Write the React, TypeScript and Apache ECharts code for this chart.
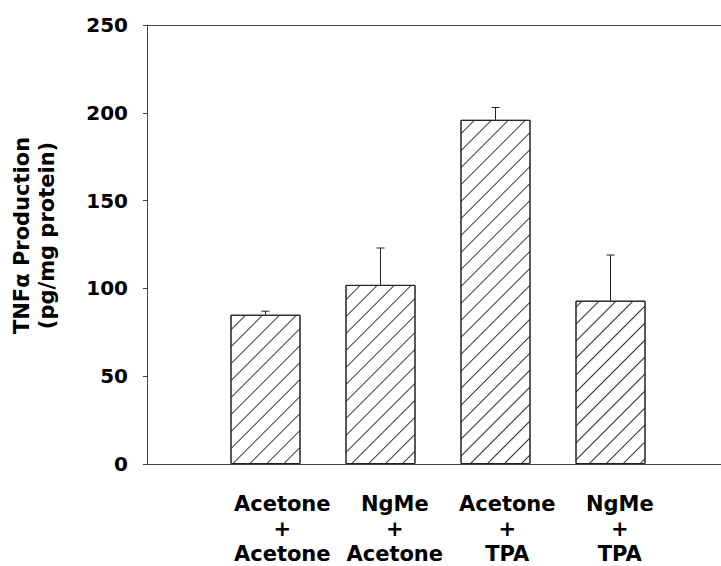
import React, { useEffect, useRef } from "react";
import * as echarts from "echarts";

const categories = ["Acetone\n+\nAcetone", "NgMe\n+\nAcetone", "Acetone\n+\nTPA", "NgMe\n+\nTPA"];
const means = [85, 102, 196, 93];
const errors = [2, 21, 7, 26];
const yMin = 0;
const yMax = 250;
const yInterval = 50;
const yTitle = "TNFα Production\n(pg/mg protein)";

const FONT = "'DejaVu Sans', 'Liberation Sans', Arial, sans-serif";
const LINE = { show: true, lineStyle: { color: "#444", width: 1 } };

export default function App() {
  const ref = useRef<HTMLDivElement>(null);
  useEffect(() => {
    if (!ref.current) return;
    const chart = echarts.init(ref.current, undefined, { renderer: "svg" });
    const option: any = {
      animation: false,
      backgroundColor: "#fff",
      grid: [
        { left: 147, right: 0, top: 25, bottom: 102 },
        { left: 208, right: 53, top: 25, bottom: 102 },
        { left: 226, right: 45, top: 25, bottom: 102 },
      ],
      xAxis: [
        { gridIndex: 0, type: "value", position: "bottom", min: 0, max: 1, axisLine: LINE, axisTick: { show: false }, axisLabel: { show: false }, splitLine: { show: false } },
        { gridIndex: 1, type: "category", data: categories, show: false },
        {
          gridIndex: 2,
          type: "category",
          data: categories,
          axisLine: { show: false },
          axisTick: { show: false },
          axisLabel: {
            interval: 0,
            fontFamily: FONT,
            fontSize: 21,
            fontWeight: "bold",
            color: "#000",
            lineHeight: 25,
            margin: 29,
          },
        },
        { gridIndex: 0, type: "value", position: "top", min: 0, max: 1, axisLine: LINE, axisTick: { show: false }, axisLabel: { show: false }, splitLine: { show: false } },
      ],
      yAxis: [
        {
          gridIndex: 0,
          type: "value",
          min: yMin,
          max: yMax,
          interval: yInterval,
          axisLine: LINE,
          axisTick: { show: true, inside: false, length: 4, lineStyle: { color: "#444" } },
          splitLine: { show: false },
          axisLabel: { fontFamily: FONT, fontSize: 20, fontWeight: "bold", color: "#000", margin: 19 },
          name: yTitle,
          nameLocation: "middle",
          nameRotate: 90,
          nameGap: 88,
          nameTextStyle: { fontFamily: FONT, fontSize: 21, fontWeight: "bold", color: "#000", lineHeight: 25, padding: [0, 0, 0, 18] },
        },
        { gridIndex: 1, type: "value", min: yMin, max: yMax, show: false },
        { gridIndex: 2, type: "value", min: yMin, max: yMax, show: false },
      ],
      series: [
        {
          type: "bar",
          xAxisIndex: 1,
          yAxisIndex: 1,
          data: means,
          barWidth: 70,
          itemStyle: {
            color: "#fff",
            borderColor: "#222",
            borderWidth: 1,
            decal: {
              symbol: "rect",
              symbolSize: 1,
              color: "#333",
              backgroundColor: "#fff",
              dashArrayX: [1, 0],
              dashArrayY: [1, 11],
              rotation: -Math.PI / 4,
            },
          },
        },
        {
          type: "custom",
          xAxisIndex: 1,
          yAxisIndex: 1,
          data: means.map((m, i) => [i, m, errors[i]]),
          encode: { x: 0, y: 1 },
          renderItem: (params: any, api: any) => {
            const x = api.value(0);
            const m = api.value(1);
            const e = api.value(2);
            const base = api.coord([x, m]);
            const top = api.coord([x, m + e]);
            return {
              type: "group",
              children: [
                { type: "line", shape: { x1: base[0], y1: base[1], x2: top[0], y2: top[1] }, style: { stroke: "#222", lineWidth: 1 } },
                { type: "line", shape: { x1: top[0] - 4, y1: top[1], x2: top[0] + 4, y2: top[1] }, style: { stroke: "#222", lineWidth: 1 } },
              ],
            };
          },
          z: 3,
        },
      ],
    };
    chart.setOption(option);
    return () => chart.dispose();
  }, []);
  return <div ref={ref} style={{ position: "absolute", left: 0, top: 0, width: 721, height: 566, overflow: "hidden" }} />;
}
